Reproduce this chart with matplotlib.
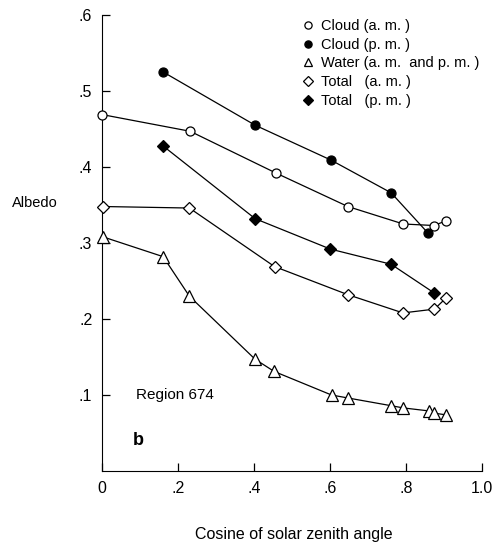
import matplotlib
matplotlib.use("Agg")
import matplotlib.pyplot as plt
from matplotlib.lines import Line2D

plt.rcParams['font.family'] = ['Liberation Sans', 'DejaVu Sans']

cloud_am_x = [0.0, 0.232, 0.458, 0.647, 0.793, 0.874, 0.904]
cloud_am_y = [0.469, 0.447, 0.392, 0.348, 0.325, 0.323, 0.329]
cloud_pm_x = [0.161, 0.403, 0.603, 0.761, 0.858]
cloud_pm_y = [0.525, 0.455, 0.409, 0.366, 0.313]
water_x = [0.003, 0.161, 0.230, 0.403, 0.453, 0.604, 0.648, 0.760, 0.793, 0.861, 0.875, 0.904]
water_y = [0.308, 0.282, 0.230, 0.147, 0.131, 0.100, 0.096, 0.086, 0.083, 0.079, 0.076, 0.074]
total_am_x = [0.003, 0.230, 0.454, 0.647, 0.792, 0.875, 0.904]
total_am_y = [0.348, 0.346, 0.269, 0.232, 0.208, 0.213, 0.227]
total_pm_x = [0.160, 0.403, 0.601, 0.761, 0.875]
total_pm_y = [0.428, 0.332, 0.292, 0.272, 0.234]

labels = ["Cloud (a. m. )", "Cloud (p. m. )", "Water (a. m.  and p. m. )",
          "Total   (a. m. )", "Total   (p. m. )"]
xticks = [0, 0.2, 0.4, 0.6, 0.8, 1.0]
xticklabels = ["0", ".2", ".4", ".6", ".8", "1.0"]
yticks = [0.1, 0.2, 0.3, 0.4, 0.5, 0.6]
yticklabels = [".1", ".2", ".3", ".4", ".5", ".6"]

fig = plt.figure(figsize=(4.95, 5.42), dpi=100)
ax = fig.add_axes([102/495, 1-471/542, 380/495, 456/542])

series = [
    (cloud_am_x, cloud_am_y, 'o', 'white', 6.5),
    (cloud_pm_x, cloud_pm_y, 'o', 'black', 6.5),
    (water_x, water_y, '^', 'white', 8),
    (total_am_x, total_am_y, 'D', 'white', 6),
    (total_pm_x, total_pm_y, 'D', 'black', 6),
]
handles = []
for (x, y, m, fc, ms), lab in zip(series, labels):
    ax.plot(x, y, color='black', lw=0.9, marker=m, mfc=fc, mec='black',
            mew=0.9, ms=ms, clip_on=False, zorder=3)
    handles.append(Line2D([], [], ls='none', marker=m, mfc=fc, mec='black',
                          mew=0.9, ms=ms*0.8))

ax.set_xlim(0, 1.0)
ax.set_ylim(0, 0.6)
ax.spines['top'].set_visible(False)
ax.spines['right'].set_visible(False)
ax.set_xticks(xticks)
ax.set_xticklabels(xticklabels)
ax.set_yticks(yticks)
ax.set_yticklabels(yticklabels)
ax.tick_params(direction='in', length=6, width=0.9, labelsize=11.5, pad=7)

fig.text(12/495, 1-203/542, "Albedo", fontsize=10.5, va='center', ha='left')
fig.text(294/495, 1-535/542, "Cosine of solar zenith angle", fontsize=11.5,
         va='center', ha='center')
ax.text(0.09, 0.1, "Region 674", fontsize=11, va='center', ha='left')
ax.text(0.08, 0.04, "b", fontsize=13, fontweight='bold', va='center', ha='left')

fig.legend(handles=handles, labels=labels, loc='upper left',
           bbox_to_anchor=(302/495, 1-19/542), frameon=False, fontsize=10.5,
           handlelength=0.8, handletextpad=0.5, labelspacing=0.32,
           borderpad=0, borderaxespad=0)

fig.savefig("out.png", dpi=100)
